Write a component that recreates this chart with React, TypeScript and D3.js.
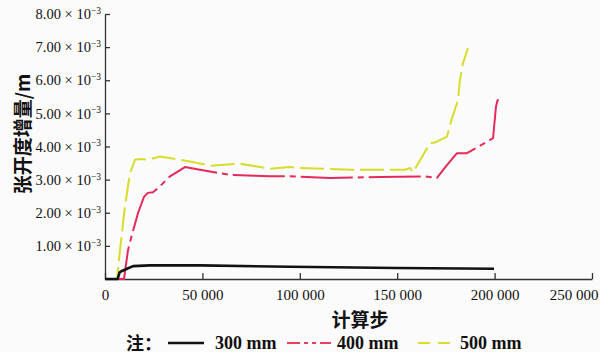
import { useEffect, useRef } from 'react'
import * as d3 from 'd3'

// 计算步 / 张开度增量 (×10^-3 m)
const steps300 = [0, 6500, 7500, 9000, 11000, 14400, 23100, 48800, 95000, 150000, 199700]
const values300 = [0, 0, 0.2, 0.25, 0.3, 0.39, 0.41, 0.41, 0.37, 0.33, 0.31]

const steps400 = [0, 9750, 11800, 13800, 17000, 20000, 22000, 24640, 28230, 33360, 41060, 48760, 64160, 84700, 94960, 115500, 141200, 164270, 170400, 175000, 180700, 185800, 199200, 200700, 201500, 202200]
const values400 = [0, 0, 0.87, 1.33, 2.0, 2.48, 2.6, 2.62, 2.8, 3.1, 3.38, 3.3, 3.14, 3.1, 3.1, 3.05, 3.08, 3.1, 3.05, 3.4, 3.8, 3.8, 4.25, 5.2, 5.4, 5.4]

const steps500 = [0, 6160, 7700, 10270, 12830, 15400, 17970, 22070, 28230, 43630, 53900, 69300, 84700, 94960, 100100, 125760, 154000, 156560, 158100, 166800, 169300, 175560, 178100, 181200, 182200, 183700, 186300]
const values500 = [0, 0, 0.88, 2.2, 3.2, 3.6, 3.62, 3.6, 3.7, 3.55, 3.42, 3.48, 3.33, 3.38, 3.35, 3.3, 3.3, 3.35, 3.22, 4.1, 4.12, 4.3, 4.85, 5.4, 6.0, 6.5, 6.97]

const xTicks = [0, 50000, 100000, 150000, 200000, 250000]
const yTicks = [1, 2, 3, 4, 5, 6, 7, 8]
const legendNames = ['300 mm', '400 mm', '500 mm']

const width = 613
const height = 357

export default function App() {
  const svgRef = useRef<SVGSVGElement>(null)

  useEffect(() => {
    if (!svgRef.current) return
    const svg = d3.select(svgRef.current)
    svg.selectAll('*').remove()

    svg.append('rect')
      .attr('width', 600).attr('height', 352)
      .attr('fill', '#fbfbfb')

    const x = d3.scaleLinear().domain([0, 250000]).range([105, 592])
    const y = d3.scaleLinear().domain([0, 8]).range([279, 14])

    const serif = 'Liberation Serif, Times New Roman, serif'
    const cjk = 'Noto Sans CJK SC, sans-serif'

    // axes
    const xAxis = svg.append('g')
      .attr('transform', `translate(0,${y(0)})`)
      .call(d3.axisBottom(x).tickValues(xTicks).tickSizeInner(-6).tickSizeOuter(0)
        .tickFormat((d) => d3.format(',')(d as number).replace(/,/g, ' ')))
    xAxis.attr('font-family', serif).attr('font-size', 15)
    xAxis.selectAll('text')
      .style('font-family', serif)
      .attr('fill', '#111')
      .attr('y', 10)
      .attr('dy', '0.71em')
    // last label is pulled back inside the picture, as in the original
    xAxis.selectAll<SVGTextElement, number>('text')
      .filter((d) => d === 250000)
      .attr('text-anchor', 'end')
      .attr('x', 6)

    const yAxis = svg.append('g')
      .attr('transform', `translate(${x(0)},0)`)
      .call(d3.axisLeft(y).tickValues(yTicks).tickSizeInner(-5).tickSizeOuter(0)
        .tickFormat(() => ''))
    yAxis.attr('font-family', serif).attr('font-size', 14.5)
    yAxis.selectAll('.tick').each(function (d) {
      const t = d3.select(this).select('text')
        .style('font-family', serif)
        .attr('fill', '#111')
        .attr('x', -4)
        .attr('dy', '0.32em')
      t.append('tspan').text(`${(d as number).toFixed(2)} × 10`)
      t.append('tspan').attr('font-size', 9.5).attr('dy', '-0.55em').text('−3')
    })
    svg.selectAll('.domain, .tick line').attr('stroke', '#333').attr('stroke-width', 1.3)

    const line = d3.line<[number, number]>()
      .x((d) => x(d[0]))
      .y((d) => y(d[1]))

    const series = [
      { s: steps500, v: values500, color: '#d8dc2a', width: 2, dash: '24,6' },
      { s: steps400, v: values400, color: '#e42a5a', width: 2, dash: '52,5,6,5' },
      { s: steps300, v: values300, color: '#111', width: 2.6, dash: null },
    ]
    series.forEach((ser) => {
      const pts = ser.s.map((s, i) => [s, ser.v[i]] as [number, number])
      svg.append('path')
        .attr('d', line(pts))
        .attr('fill', 'none')
        .attr('stroke', ser.color)
        .attr('stroke-width', ser.width)
        .attr('stroke-linejoin', 'round')
        .attr('stroke-dasharray', ser.dash)
    })

    // titles
    svg.append('text')
      .attr('x', 360).attr('y', 327)
      .attr('text-anchor', 'middle')
      .style('font-family', cjk).attr('font-weight', 700).attr('font-size', 19)
      .attr('fill', '#111')
      .text('计算步')

    svg.append('text')
      .attr('transform', 'translate(30,134) rotate(-90)')
      .attr('text-anchor', 'middle')
      .style('font-family', cjk).attr('font-weight', 700).attr('font-size', 19)
      .attr('fill', '#111')
      .text('张开度增量/m')

    // legend
    const ly = 343
    svg.append('text')
      .attr('x', 126).attr('y', ly + 7)
      .style('font-family', cjk).attr('font-weight', 700).attr('font-size', 18)
      .attr('fill', '#111')
      .text('注：')

    const legend = [
      { x1: 168, x2: 204, tx: 215, color: '#111', w: 2.6, dash: null },
      { x1: 287, x2: 331, tx: 337, color: '#e8405e', w: 2, dash: '13,4,4,4,4,4' },
      { x1: 418, x2: 451, tx: 460, color: '#d8dc2a', w: 2, dash: '12,8' },
    ]
    legend.forEach((l, i) => {
      svg.append('line')
        .attr('x1', l.x1).attr('x2', l.x2).attr('y1', ly).attr('y2', ly)
        .attr('stroke', l.color).attr('stroke-width', l.w)
        .attr('stroke-dasharray', l.dash)
      svg.append('text')
        .attr('x', l.tx).attr('y', ly + 6)
        .style('font-family', serif).attr('font-weight', 700).attr('font-size', 18)
        .attr('fill', '#111')
        .text(legendNames[i])
    })
  }, [])

  return (
    <svg
      ref={svgRef}
      width={width}
      height={height}
      style={{ position: 'absolute', left: 0, top: 0, background: '#fff' }}
    />
  )
}
